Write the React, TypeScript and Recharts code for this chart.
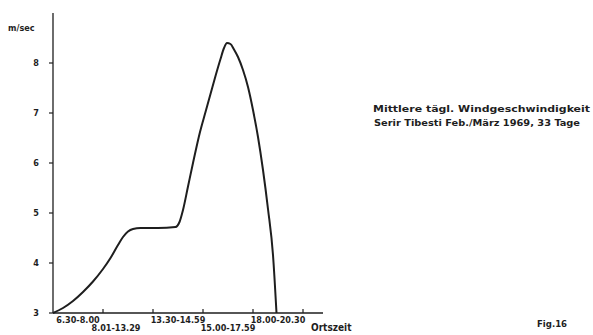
import React from "react";
import { LineChart, Line, XAxis, YAxis } from "recharts";

const timeX = [0, 0.2, 0.4, 0.6, 0.8, 1.0, 1.15, 1.3, 1.4, 1.5, 1.6, 1.75, 2.1, 2.45, 2.53, 2.6, 2.7, 2.8, 2.94, 3.05, 3.15, 3.25, 3.35, 3.42, 3.48, 3.55, 3.62, 3.7, 3.8, 3.9, 4.0, 4.1, 4.2, 4.3, 4.4, 4.47];
const speed = [3.0, 3.1, 3.24, 3.42, 3.63, 3.88, 4.1, 4.36, 4.52, 4.63, 4.68, 4.7, 4.7, 4.72, 4.82, 5.06, 5.53, 6.0, 6.62, 7.02, 7.38, 7.74, 8.08, 8.3, 8.4, 8.38, 8.27, 8.12, 7.86, 7.52, 7.06, 6.52, 5.86, 5.08, 4.16, 3.0];
const intervalLabels = ["6.30-8.00", "8.01-13.29", "13.30-14.59", "15.00-17.59", "18.00-20.30"];
const xBoundaries = [1, 2, 3, 4, 5];
const yTicks = [3, 4, 5, 6, 7, 8];

const data = timeX.map((t, i) => ({ t, v: speed[i] }));

const FONT = "'DejaVu Sans Condensed', 'Liberation Sans Narrow', 'DejaVu Sans', sans-serif";
const INK = "#1e1e1e";

const XTick = (props: any) => {
  const { x, y, index } = props;
  const label = intervalLabels[index];
  const lower = index % 2 === 1;
  const seg = 50;
  return (
    <g>
      <line x1={x} y1={y - 4} x2={x} y2={y} stroke={INK} strokeWidth={1.2} />
      <text
        x={x - seg / 2 + (index === 1 ? -12 : 0)}
        y={lower ? y + 18 : y + 10}
        textAnchor="middle"
        fontFamily={FONT}
        fontWeight="bold"
        fontSize={9}
        fill={INK}
      >
        {label}
      </text>
    </g>
  );
};

const YTick = (props: any) => {
  const { x, y, payload } = props;
  return (
    <text x={x - 8} y={y + 3} textAnchor="end" fontFamily={FONT} fontWeight="bold" fontSize={9} fill={INK}>
      {payload.value}
    </text>
  );
};

export default function App() {
  return (
    <div style={{ position: "absolute", left: 0, top: 0, width: 593, height: 335, background: "#fff" }}>
      <LineChart
        width={593}
        height={335}
        data={data}
        margin={{ top: 13, right: 270, bottom: 0, left: 0 }}
      >
        <XAxis
          dataKey="t"
          type="number"
          domain={[0, 5.4]}
          ticks={xBoundaries}
          tick={<XTick />}
          tickLine={false}
          tickSize={0}
          tickMargin={0}
          axisLine={{ stroke: INK, strokeWidth: 1.3 }}
          height={22}
          interval={0}
        />
        <YAxis
          type="number"
          domain={[3, 9]}
          ticks={yTicks}
          tick={<YTick />}
          tickSize={4}
          tickLine={{ stroke: INK, strokeWidth: 1.2 }}
          axisLine={{ stroke: INK, strokeWidth: 1.3 }}
          width={53}
          interval={0}
        />
        <Line
          type="monotone"
          dataKey="v"
          stroke={INK}
          strokeWidth={2}
          dot={false}
          isAnimationActive={false}
        />
      </LineChart>
      <svg
        width={593}
        height={335}
        style={{ position: "absolute", left: 0, top: 0, pointerEvents: "none" }}
      >
        <text x={8} y={31} fontFamily={FONT} fontWeight="bold" fontSize={9} fill={INK}>
          m/sec
        </text>
        <text x={311} y={331} fontFamily={FONT} fontWeight="bold" fontSize={10} fill={INK}>
          Ortszeit
        </text>
        <text x={373} y={112} fontFamily={FONT} fontWeight="bold" fontSize={9.5} fill={INK} textLength={217} lengthAdjust="spacingAndGlyphs">
          Mittlere  tägl. Windgeschwindigkeit
        </text>
        <text x={374} y={126} fontFamily={FONT} fontWeight="bold" fontSize={9.5} fill={INK} textLength={206} lengthAdjust="spacingAndGlyphs">
          Serir Tibesti   Feb./März 1969, 33 Tage
        </text>
        <text x={537} y={327} fontFamily={FONT} fontWeight="bold" fontSize={9.5} fill={INK}>
          Fig.16
        </text>
      </svg>
    </div>
  );
}
